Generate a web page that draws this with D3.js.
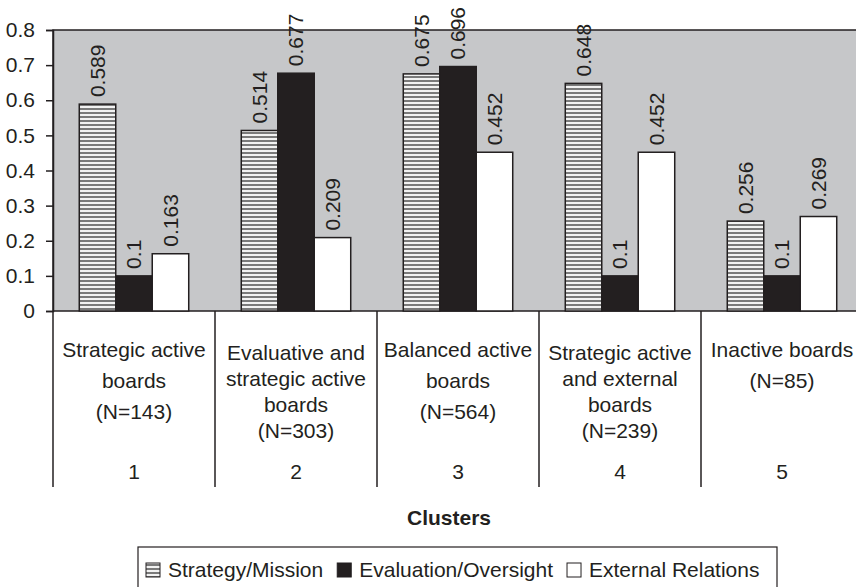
<!DOCTYPE html>
<html>
<head>
<meta charset="utf-8">
<script src="https://cdn.jsdelivr.net/npm/d3@7"></script>
<style>
  body { margin: 0; background: #fff; }
  text { font-family: "Liberation Sans", Arial, sans-serif; fill: #231f20; }
</style>
</head>
<body>
<div id="chart"></div>
<script>
var clusters = ["1", "2", "3", "4", "5"];
var clusterNames = [
  ["Strategic active", "boards", "(N=143)"],
  ["Evaluative and", "strategic active", "boards", "(N=303)"],
  ["Balanced active", "boards", "(N=564)"],
  ["Strategic active", "and external", "boards", "(N=239)"],
  ["Inactive boards", "(N=85)"]
];
var series = ["Strategy/Mission", "Evaluation/Oversight", "External Relations"];
var strategy = [0.589, 0.514, 0.675, 0.648, 0.256];
var evaluation = [0.1, 0.677, 0.696, 0.1, 0.1];
var external = [0.163, 0.209, 0.452, 0.452, 0.269];
var yTicks = [0, 0.1, 0.2, 0.3, 0.4, 0.5, 0.6, 0.7, 0.8];

var values = [strategy, evaluation, external];
var fills = ["url(#stripes)", "#231f20", "#ffffff"];

var W = 856, H = 587;
var plot = { left: 53, right: 863, top: 30, bottom: 311 };

var svg = d3.select("#chart").append("svg")
  .attr("width", W)
  .attr("height", H);

// striped fill for strategy bars
var pat = svg.append("defs").append("pattern")
  .attr("id", "stripes")
  .attr("patternUnits", "userSpaceOnUse")
  .attr("width", 8).attr("height", 4);
pat.append("rect").attr("width", 8).attr("height", 4).attr("fill", "#f2f2f2");
pat.append("rect").attr("y", 0).attr("width", 8).attr("height", 2).attr("fill", "#7a7a7a");

var x0 = d3.scaleBand()
  .domain(clusters)
  .range([plot.left, plot.right])
  .padding(0);

var x1 = d3.scaleBand()
  .domain(series)
  .range([0, x0.bandwidth()])
  .paddingInner(0)
  .paddingOuter(0.72);

var y = d3.scaleLinear()
  .domain([0, 0.8])
  .range([plot.bottom, plot.top]);

// plot background
svg.append("rect")
  .attr("x", plot.left).attr("y", plot.top)
  .attr("width", plot.right - plot.left)
  .attr("height", plot.bottom - plot.top)
  .attr("fill", "#c6c7c9")
  .attr("stroke", "#231f20")
  .attr("stroke-width", 1.5);

// bars
var groups = svg.selectAll(".grp")
  .data(clusters)
  .enter().append("g")
  .attr("class", "grp")
  .attr("transform", function(d) { return "translate(" + x0(d) + ",0)"; });

series.forEach(function(s, si) {
  groups.append("rect")
    .attr("x", x1(s))
    .attr("y", function(d, i) { return y(values[si][i]); })
    .attr("width", x1.bandwidth())
    .attr("height", function(d, i) { return y(0) - y(values[si][i]); })
    .attr("fill", fills[si])
    .attr("stroke", "#231f20")
    .attr("stroke-width", 1.5);

  groups.append("text")
    .attr("transform", function(d, i) {
      return "translate(" + (x1(s) + x1.bandwidth() / 2) + "," + (y(values[si][i]) - 7) + ") rotate(-90)";
    })
    .attr("dy", "0.35em")
    .style("font-size", "21px")
    .text(function(d, i) { return values[si][i]; });
});

// y axis
var yAxis = svg.append("g")
  .attr("transform", "translate(" + plot.left + ",0)")
  .call(d3.axisLeft(y).tickValues(yTicks).tickSize(7).tickPadding(11)
    .tickFormat(function(d) { return d === 0 ? "0" : d3.format(".1f")(d); }));
yAxis.select(".domain").attr("stroke", "#231f20").attr("stroke-width", 1.5);
yAxis.selectAll(".tick line").attr("stroke", "#231f20").attr("stroke-width", 1.5);
yAxis.selectAll(".tick text").style("font-size", "21px").attr("fill", "#231f20");

// category separators
var bounds = clusters.map(function(c) { return x0(c); }).concat([plot.right]);
svg.selectAll(".sep")
  .data(bounds)
  .enter().append("line")
  .attr("x1", function(d) { return d; })
  .attr("x2", function(d) { return d; })
  .attr("y1", plot.bottom)
  .attr("y2", 487)
  .attr("stroke", "#231f20")
  .attr("stroke-width", 1.5);

// category labels
clusters.forEach(function(c, i) {
  var lines = clusterNames[i];
  var step = lines.length > 3 ? 26 : 31;
  var top = lines.length > 3 ? 353 : 350;
  var cx = x0(c) + x0.bandwidth() / 2;
  svg.append("g").selectAll("text")
    .data(lines)
    .enter().append("text")
    .attr("x", cx)
    .attr("y", function(d, j) { return top + j * step; })
    .attr("dy", "0.35em")
    .attr("text-anchor", "middle")
    .style("font-size", "21px")
    .text(function(d) { return d; });
  svg.append("text")
    .attr("x", cx)
    .attr("y", 472)
    .attr("dy", "0.35em")
    .attr("text-anchor", "middle")
    .style("font-size", "21px")
    .text(c);
});

// axis title
svg.append("text")
  .attr("x", 449)
  .attr("y", 518)
  .attr("dy", "0.35em")
  .attr("text-anchor", "middle")
  .style("font-size", "21px")
  .style("font-weight", "bold")
  .text("Clusters");

// legend
var legend = svg.append("g");
legend.append("rect")
  .attr("x", 138).attr("y", 547)
  .attr("width", 777 - 138).attr("height", 60)
  .attr("fill", "#fff")
  .attr("stroke", "#231f20")
  .attr("stroke-width", 1.2);

var lx = 146;
series.forEach(function(s, si) {
  legend.append("rect")
    .attr("x", lx).attr("y", 563)
    .attr("width", 14).attr("height", 14)
    .attr("fill", fills[si])
    .attr("stroke", "#231f20")
    .attr("stroke-width", 1);
  var t = legend.append("text")
    .attr("x", lx + 22)
    .attr("y", 570)
    .attr("dy", "0.35em")
    .style("font-size", "21px")
    .text(s);
  lx += 22 + t.node().getComputedTextLength() + 14;
});
</script>
</body>
</html>
